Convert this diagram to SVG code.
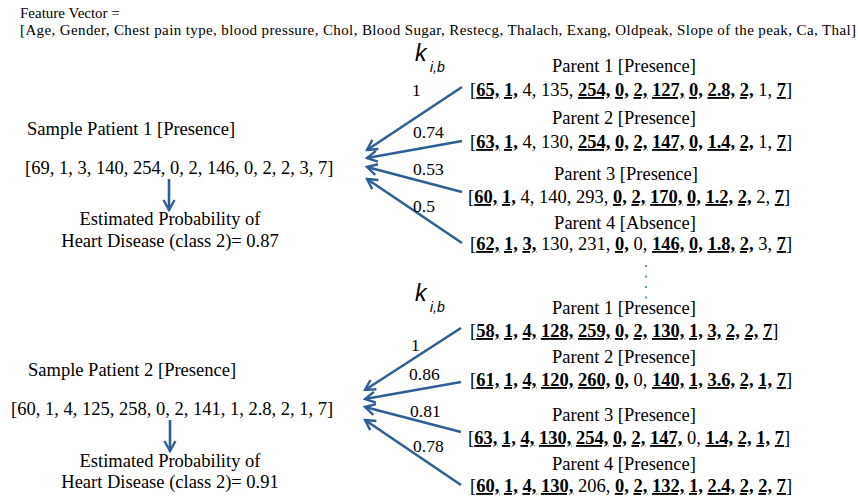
<svg xmlns="http://www.w3.org/2000/svg" width="858" height="498" viewBox="0 0 858 498">
<style>
text{font-family:"Liberation Serif","Times New Roman",serif;fill:#000}
.t{font-size:18.5px}
.w{font-size:17.5px}
.h{font-size:15px}
.lab{text-anchor:middle}
.u{font-weight:bold;text-decoration:underline}
.k{font-family:"Liberation Sans",Arial,sans-serif;font-style:italic}
.arr{stroke:#2d5f94;stroke-width:2.6;fill:none;marker-end:url(#ah)}
.dots{stroke:#5b9bd5;stroke-width:2.2;stroke-dasharray:2 8.5;fill:none}
</style>
<defs>
<marker id="ah" markerUnits="userSpaceOnUse" viewBox="0 0 14 14" markerWidth="14" markerHeight="14" refX="12" refY="7" orient="auto">
<path d="M2,1.5 L12,7 L2,12.5" fill="none" stroke="#2d5f94" stroke-width="2.4" stroke-linejoin="miter"/>
</marker>
</defs>
<rect width="858" height="498" fill="#fff"/>

<g id="header">
<text class="h" x="20" y="18">Feature Vector =</text>
<text class="h" x="20" y="35" textLength="836" lengthAdjust="spacing">[Age, Gender, Chest pain type, blood pressure, Chol, Blood Sugar, Restecg, Thalach, Exang, Oldpeak, Slope of the peak, Ca, Thal]</text>
</g>

<g id="k1">
<text class="k" x="415" y="61" font-size="23">k</text>
<text class="k" x="430" y="72" font-size="14">i,b</text>
</g>
<g id="k2">
<text class="k" x="415" y="301" font-size="23">k</text>
<text class="k" x="430" y="312" font-size="14">i,b</text>
</g>

<g id="sample1">
<text class="t" x="27" y="135">Sample Patient 1 [Presence]</text>
<text class="t" x="25" y="174">[69, 1, 3, 140, 254, 0, 2, 146, 0, 2, 2, 3, 7]</text>
<text class="t lab" x="170" y="225">Estimated Probability of</text>
<text class="t lab" x="170" y="247">Heart Disease (class 2)= 0.87</text>
</g>

<g id="sample2">
<text class="t" x="28" y="376">Sample Patient 2 [Presence]</text>
<text class="t" x="11" y="415">[60, 1, 4, 125, 258, 0, 2, 141, 1, 2.8, 2, 1, 7]</text>
<text class="t lab" x="170" y="467">Estimated Probability of</text>
<text class="t lab" x="170" y="488">Heart Disease (class 2)= 0.91</text>
</g>

<g id="parent1a">
<text class="t lab" x="624" y="72">Parent 1 [Presence]</text>
<text class="t" x="470" y="96">[<tspan class="u">65,</tspan> <tspan class="u">1,</tspan> 4, 135, <tspan class="u">254,</tspan> <tspan class="u">0,</tspan> <tspan class="u">2,</tspan> <tspan class="u">127,</tspan> <tspan class="u">0,</tspan> <tspan class="u">2.8,</tspan> <tspan class="u">2,</tspan> 1, <tspan class="u">7</tspan>]</text>
</g>
<g id="parent2a">
<text class="t lab" x="624" y="124">Parent 2 [Presence]</text>
<text class="t" x="470" y="148">[<tspan class="u">63,</tspan> <tspan class="u">1,</tspan> 4, 130, <tspan class="u">254,</tspan> <tspan class="u">0,</tspan> <tspan class="u">2,</tspan> <tspan class="u">147,</tspan> <tspan class="u">0,</tspan> <tspan class="u">1.4,</tspan> <tspan class="u">2,</tspan> 1, <tspan class="u">7</tspan>]</text>
</g>
<g id="parent3a">
<text class="t lab" x="626" y="180">Parent 3 [Presence]</text>
<text class="t" x="468" y="203">[<tspan class="u">60,</tspan> <tspan class="u">1,</tspan> 4, 140, 293, <tspan class="u">0,</tspan> <tspan class="u">2,</tspan> <tspan class="u">170,</tspan> <tspan class="u">0,</tspan> <tspan class="u">1.2,</tspan> <tspan class="u">2,</tspan> 2, <tspan class="u">7</tspan>]</text>
</g>
<g id="parent4a">
<text class="t lab" x="625" y="229">Parent 4 [Absence]</text>
<text class="t" x="470" y="250">[<tspan class="u">62,</tspan> <tspan class="u">1,</tspan> <tspan class="u">3,</tspan> 130, 231, <tspan class="u">0,</tspan> 0, <tspan class="u">146,</tspan> <tspan class="u">0,</tspan> <tspan class="u">1.8,</tspan> <tspan class="u">2,</tspan> 3, <tspan class="u">7</tspan>]</text>
</g>

<g id="ellipsis">
<path class="dots" d="M646,265 V302"/>
</g>

<g id="parent1b">
<text class="t lab" x="624" y="314">Parent 1 [Presence]</text>
<text class="t" x="470" y="337">[<tspan class="u">58,</tspan> <tspan class="u">1,</tspan> <tspan class="u">4,</tspan> <tspan class="u">128,</tspan> <tspan class="u">259,</tspan> <tspan class="u">0,</tspan> <tspan class="u">2,</tspan> <tspan class="u">130,</tspan> <tspan class="u">1,</tspan> <tspan class="u">3,</tspan> <tspan class="u">2,</tspan> <tspan class="u">2,</tspan> <tspan class="u">7</tspan>]</text>
</g>
<g id="parent2b">
<text class="t lab" x="624" y="363">Parent 2 [Presence]</text>
<text class="t" x="470" y="386">[<tspan class="u">61,</tspan> <tspan class="u">1,</tspan> <tspan class="u">4,</tspan> <tspan class="u">120,</tspan> <tspan class="u">260,</tspan> <tspan class="u">0,</tspan> 0, <tspan class="u">140,</tspan> <tspan class="u">1,</tspan> <tspan class="u">3.6,</tspan> <tspan class="u">2,</tspan> <tspan class="u">1,</tspan> <tspan class="u">7</tspan>]</text>
</g>
<g id="parent3b">
<text class="t lab" x="624" y="421">Parent 3 [Presence]</text>
<text class="t" x="468" y="444">[<tspan class="u">63,</tspan> <tspan class="u">1,</tspan> <tspan class="u">4,</tspan> <tspan class="u">130,</tspan> <tspan class="u">254,</tspan> <tspan class="u">0,</tspan> <tspan class="u">2,</tspan> <tspan class="u">147,</tspan> 0, <tspan class="u">1.4,</tspan> <tspan class="u">2,</tspan> <tspan class="u">1,</tspan> <tspan class="u">7</tspan>]</text>
</g>
<g id="parent4b">
<text class="t lab" x="624" y="470">Parent 4 [Presence]</text>
<text class="t" x="470" y="492">[<tspan class="u">60,</tspan> <tspan class="u">1,</tspan> <tspan class="u">4,</tspan> <tspan class="u">130,</tspan> 206, <tspan class="u">0,</tspan> <tspan class="u">2,</tspan> <tspan class="u">132,</tspan> <tspan class="u">1,</tspan> <tspan class="u">2.4,</tspan> <tspan class="u">2,</tspan> <tspan class="u">2,</tspan> <tspan class="u">7</tspan>]</text>
</g>

<g id="connectors">
<line class="arr" x1="169" y1="179" x2="169" y2="210"/>
<line class="arr" x1="170" y1="420" x2="170" y2="451"/>
<line class="arr" x1="462" y1="87" x2="367" y2="150"/>
<line class="arr" x1="462" y1="141" x2="367" y2="158"/>
<line class="arr" x1="462" y1="192" x2="367" y2="167"/>
<line class="arr" x1="462" y1="243" x2="367" y2="179"/>
<line class="arr" x1="461" y1="328" x2="365" y2="390"/>
<line class="arr" x1="461" y1="382" x2="365" y2="399"/>
<line class="arr" x1="461" y1="432" x2="365" y2="407"/>
<line class="arr" x1="461" y1="485" x2="365" y2="420"/>
</g>

<g id="weights">
<text class="w" x="412" y="96">1</text>
<text class="w" x="413" y="138">0.74</text>
<text class="w" x="413" y="175">0.53</text>
<text class="w" x="413" y="212">0.5</text>
<text class="w" x="411" y="351">1</text>
<text class="w" x="409" y="380">0.86</text>
<text class="w" x="410" y="417">0.81</text>
<text class="w" x="413" y="452">0.78</text>
</g>
</svg>
